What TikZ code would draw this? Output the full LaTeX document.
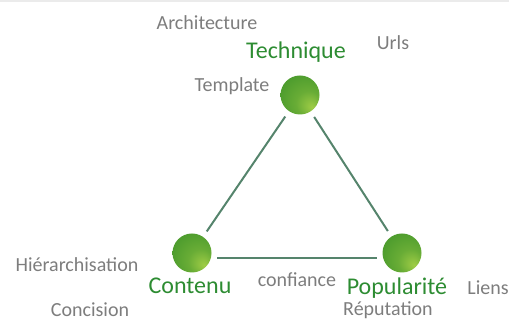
\documentclass[tikz,border=0pt]{standalone}
\usepackage{fontspec}
\setmainfont{Carlito}
\usetikzlibrary{positioning}

\definecolor{hilite}{RGB}{160,205,70}
\definecolor{leaf}{RGB}{75,155,45}
\definecolor{deepleaf}{RGB}{20,100,40}
\definecolor{pillarcol}{RGB}{45,140,50}
\definecolor{keycol}{RGB}{125,125,125}
\definecolor{linkcol}{RGB}{85,132,108}

% light spot sits low on the left of each ball (x is mirrored under y=-1pt)
\pgfdeclareradialshading{pivotball}{\pgfpoint{16bp}{-16bp}}{color(0bp)=(hilite); color(16bp)=(leaf!65!hilite); color(34bp)=(leaf); color(48bp)=(deepleaf); color(50bp)=(deepleaf)}

\begin{document}
\begin{tikzpicture}[x=1pt,y=-1pt,semithick]
		  \tikzstyle{pivot}=[circle,minimum size=19.5pt,inner sep=0pt,shading=pivotball]
		  \tikzstyle{pillar}=[inner sep=0pt,text=pillarcol,font=\fontsize{12}{14}\selectfont]
		  \tikzstyle{keyword}=[inner sep=0pt,text=keycol,font=\fontsize{10}{12}\selectfont]
		  \tikzstyle{link}=[draw=linkcol,line width=1pt,shorten >=3pt,shorten <=3pt]

		  \useasboundingbox (0,0) rectangle (254.5,167.5);
		  \draw[black!8,line width=0.8pt] (0,0.6) -- (254.5,0.6);

		  % the three pillars
		  \node[pivot]   (T) at (150,47.5)              {};
		  \node[pivot]   (C) at (96,126.5)              {};
		  \node[pivot]   (P) at (201,126.5)             {};

		  \node[pillar]  (tech) [above=6pt of T, xshift=-2pt]   {Technique};
		  \node[pillar]  (cont) [below=2pt of C, xshift=-1pt]   {Contenu};
		  \node[pillar]  (popu) [below=2pt of P, xshift=-2.5pt] {Popularité};

		  \path[link] (T) edge (C) edge (P);
		  \path[link] (C.-15) edge (P.195);

		  % keywords around them
		  \node[keyword] (archi) at (103.5,11.5) {Architecture};
		  \node[keyword] (urls)  at (196.5,21.5) {Urls};
		  \node[keyword] (templ) at (116,43)     {Template};
		  \node[keyword] (hier)  at (38.5,132.5) {Hiérarchisation};
		  \node[keyword] (conf)  at (148.5,140)  {confiance};
		  \node[keyword] (liens) at (244,144)    {Liens};
		  \node[keyword] (conc)  at (45,155)     {Concision};
		  \node[keyword] (repu)  at (194,155)    {Réputation};
\end{tikzpicture}
\end{document}
